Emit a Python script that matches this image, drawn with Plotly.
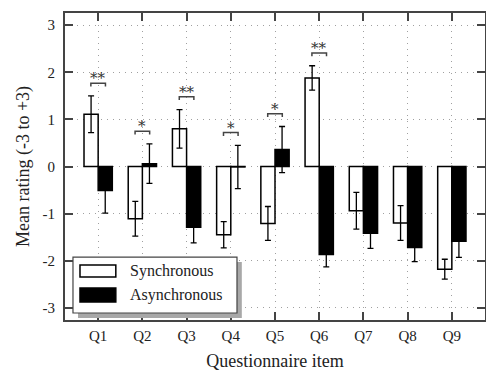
import plotly.graph_objects as go

items = ["Q1", "Q2", "Q3", "Q4", "Q5", "Q6", "Q7", "Q8", "Q9"]
series_names = ["Synchronous", "Asynchronous"]
sync_mean = [1.11, -1.11, 0.80, -1.45, -1.21, 1.88, -0.94, -1.20, -2.18]
sync_err = [0.39, 0.37, 0.41, 0.28, 0.36, 0.26, 0.39, 0.37, 0.21]
async_mean = [-0.51, 0.06, -1.29, -0.01, 0.36, -1.87, -1.42, -1.72, -1.59]
async_err = [0.48, 0.42, 0.33, 0.46, 0.49, 0.26, 0.32, 0.30, 0.34]
significance = ["**", "*", "**", "*", "*", "**", "", "", ""]
y_ticks = [-3, -2, -1, 0, 1, 2, 3]

FONT = "Liberation Serif"
AX = "#444444"
xpos = list(range(1, len(items) + 1))

fig = go.Figure()
fig.add_trace(go.Bar(
    x=xpos, y=sync_mean, name=series_names[0],
    marker=dict(color="white", line=dict(color="black", width=1.5)),
    error_y=dict(type="data", array=sync_err, color="black", thickness=1.3, width=3),
    showlegend=False,
))
fig.add_trace(go.Bar(
    x=xpos, y=async_mean, name=series_names[1],
    marker=dict(color="black", line=dict(color="black", width=1.5)),
    error_y=dict(type="data", array=async_err, color="black", thickness=1.3, width=3),
    showlegend=False,
))

# significance brackets
half = 0.165
for i, s in enumerate(significance):
    if not s:
        continue
    top = max(sync_mean[i] + sync_err[i], async_mean[i] + async_err[i],
              sync_mean[i], async_mean[i])
    yb = top + 0.27
    x0, x1 = xpos[i] - half, xpos[i] + half
    fig.add_shape(type="path", xref="x", yref="y",
                  path=f"M {x0},{yb-0.07} L {x0},{yb} L {x1},{yb} L {x1},{yb-0.07}",
                  line=dict(color=AX, width=1.5))
    fig.add_annotation(x=xpos[i], y=yb, xref="x", yref="y", text=s,
                       showarrow=False, yanchor="bottom", yshift=-6,
                       font=dict(family="DejaVu Serif", size=15, color="#333"))

# custom legend with drop shadow
fig.add_shape(type="rect", xref="paper", yref="paper", x0=0.031, x1=0.421, y0=0.0065, y1=0.189,
              fillcolor="#a8a8a8", line=dict(width=0))
fig.add_shape(type="rect", xref="paper", yref="paper", x0=0.019, x1=0.4095, y0=0.0228, y1=0.205,
              fillcolor="white", line=dict(color=AX, width=1.2))
fig.add_shape(type="rect", xref="paper", yref="paper", x0=0.0357, x1=0.121, y0=0.140, y1=0.179,
              fillcolor="white", line=dict(color="black", width=1.5))
fig.add_shape(type="rect", xref="paper", yref="paper", x0=0.0357, x1=0.121, y0=0.0586, y1=0.104,
              fillcolor="black", line=dict(color="black", width=1.5))
for name, yy in zip(series_names, [0.160, 0.081]):
    fig.add_annotation(x=0.150, y=yy, xref="paper", yref="paper", text=name,
                       showarrow=False, xanchor="left", yanchor="middle",
                       font=dict(family=FONT, size=16, color="#222"))

axis_common = dict(
    showline=True, linecolor=AX, linewidth=2, mirror="ticks",
    ticks="inside", ticklen=8, tickwidth=1.5, tickcolor=AX,
    showgrid=True, gridcolor="#a0a0a0", griddash="1px,5px", gridwidth=1.2,
    zeroline=False, tickfont=dict(family=FONT, size=15, color="#222"),
    automargin=False,
)
fig.update_layout(
    width=486, height=371,
    margin=dict(l=65, r=1, t=13, b=51),
    paper_bgcolor="white", plot_bgcolor="white",
    barmode="group", bargap=0.36, bargroupgap=0,
    xaxis=dict(range=[0.25, 9.75], tickvals=xpos, ticktext=items,
               title=dict(text="Questionnaire item", font=dict(family=FONT, size=18, color="#222"), standoff=25),
               ticklabelstandoff=1,
               **axis_common),
    yaxis=dict(range=[-3.26, 3.26], tickvals=y_ticks, ticktext=[str(v) for v in y_ticks],
               title=dict(text="Mean rating (-3 to +3)", font=dict(family=FONT, size=18, color="#222"), standoff=8),
               ticklabelstandoff=5,
               **axis_common),
)
fig.write_html("out.html", config={"displayModeBar": False},
               post_script="document.body.style.margin='0px';document.body.style.overflow='hidden';")
